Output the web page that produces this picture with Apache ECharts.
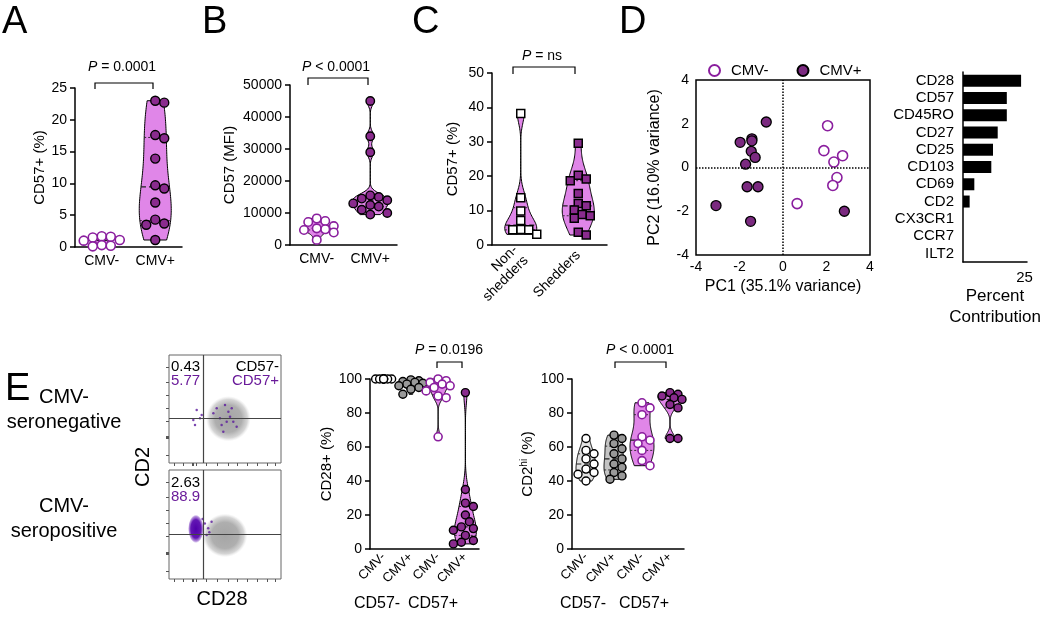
<!DOCTYPE html>
<html><head><meta charset="utf-8">
<script src="https://cdn.jsdelivr.net/npm/echarts@6/dist/echarts.min.js"></script>
<style>html,body{margin:0;padding:0;background:#fff}#c{width:1050px;height:620px}</style>
</head><body><div id="c"></div>
<script>
// ---------------- DATA ----------------
const groupCMV = ['CMV-', 'CMV+'];
const aCMVneg = [1.7, 1.6, 1.5, 1.1, 1.0, 0.3, 0.2, 0.1];
const aCMVpos = [23.0, 22.7, 17.6, 17.1, 13.9, 9.7, 9.2, 7.0, 4.3, 3.7, 3.5, 1.1];
const aTicks = [0, 25, 5];
const bCMVneg = [8300, 7500, 7200, 5900, 5200, 4900, 4700, 3900, 1600];
const bCMVpos = [45000, 34000, 29000, 15500, 15000, 14500, 14000, 13000, 12500, 12000, 11000, 10000, 9500];
const bTicks = [0, 50000, 10000];
const cCategories = ['Non-\nshedders', 'Shedders'];
const cNonShedders = [38.2, 13.7, 9.9, 7.1, 4.5, 4.4, 4.4, 3.1];
const cShedders = [29.6, 20.3, 19.2, 18.7, 15.0, 12.1, 11.4, 10.2, 8.9, 8.5, 7.8, 3.7, 2.9];
const cTicks = [0, 50, 10];
const dCMVneg = [[2.05, 1.91], [1.88, 0.77], [2.74, 0.54], [2.34, 0.25], [2.48, -0.46], [2.29, -0.82], [0.65, -1.65]];
const dCMVpos = [[-0.77, 2.08], [-1.97, 1.15], [-1.43, 1.31], [-1.43, 1.22], [-1.46, 0.74], [-1.28, 0.46], [-1.72, 0.15], [-1.65, -0.88], [-1.15, -0.88], [-3.08, -1.74], [-1.49, -2.46], [2.82, -2.0]];
const dTicks = [-4, 4, 2];
const dMarkers = ['CD28', 'CD57', 'CD45RO', 'CD27', 'CD25', 'CD103', 'CD69', 'CD2', 'CX3CR1', 'CCR7', 'ILT2'];
const dContribution = [23.6, 17.8, 17.8, 14.1, 12.2, 11.5, 4.6, 2.7, 0, 0, 0];
const flowGate = [31, 41];
const flowTopCloud = [[53, 41, 20, 21]];
const flowBottomCloud = [[50, 40, 20, 20]];
const flowBottomBlob = [[24, 46, 7, 13]];
const flowTopPurple = [[24.7, 49], [27.7, 41.4], [23.2, 35.2], [29.2, 44.4], [50, 53.7], [53, 47.5], [54.5, 42.9], [51.5, 38.3], [47, 35.2], [56, 50.6], [48.5, 29], [45.5, 41.4], [57.4, 38.3], [39.6, 46], [42.6, 50.6], [21.7, 39.8], [60.4, 33.6]];
const flowBottomPurple = [[32, 51], [35, 46.5], [38, 52.6], [33.6, 40.4], [30, 55], [36, 43]];
const flowXTicks = [5, 12.5, 21, 22, 24, 33, 43, 53, 61, 70, 79, 88, 95];
const flowYTicks = [7, 23, 24, 25, 39, 51, 63, 75, 89];
const eCategories = ['CMV-', 'CMV+', 'CMV-', 'CMV+'];
const eCD28_57negCMVneg = [100, 100, 100, 100, 100, 100, 100, 100];
const eCD28_57negCMVpos = [99.5, 99, 98.5, 98, 97.5, 97, 96, 95, 94, 91];
const eCD28_57posCMVneg = [100, 99, 98, 97, 96, 95, 93, 90, 89, 66];
const eCD28_57posCMVpos = [92, 35, 27, 25, 20, 16, 13, 12, 11, 8, 5, 4, 3];
const eCD2_57negCMVneg = [65, 58, 56, 53, 50, 47, 45, 44, 40];
const eCD2_57negCMVpos = [67, 65, 62, 59, 56, 53, 50, 48, 45, 43, 41];
const eCD2_57posCMVneg = [86, 83, 79, 66, 64, 62, 58, 52, 49];
const eCD2_57posCMVpos = [92, 91, 90, 89, 88, 85, 83, 65, 65];
const eTicks = [0, 100, 20];

// ---------------- STYLE ----------------
const F = "'Liberation Sans', Arial, sans-serif";
const PINK = '#e086e8', PURPLE = '#8a2b8e', OPENP = '#8a1e9e', TXTP = '#6a1b9a';

function quantile(s, q) { const p = (s.length - 1) * q, i = Math.floor(p), f = p - i; return s[i] + (s[Math.min(i + 1, s.length - 1)] - s[i]) * f; }

function violinSeries(gi, groups) {
  return {
    type: 'custom', xAxisIndex: gi, yAxisIndex: gi, silent: true, animation: false,
    data: groups.map((g, i) => [i, quantile(g.values.slice().sort((a, b) => a - b), 0.5)]),
    encode: { x: 0, y: 1 },
    renderItem: function (params, api) {
      const idx = params.dataIndex;
      const g = groups[idx];
      const cat = api.value(0);
      const vals = g.values.slice().sort((a, b) => a - b);
      const n = vals.length, lo = vals[0], hi = vals[n - 1];
      const cx = api.coord([cat, lo])[0];
      const children = [];
      if (g.hw && hi > lo) {
        const mean = vals.reduce((s, v) => s + v, 0) / n;
        const sd = Math.sqrt(vals.reduce((s, v) => s + (v - mean) * (v - mean), 0) / (n - 1));
        const q1 = quantile(vals, 0.25), q3 = quantile(vals, 0.75), med = quantile(vals, 0.5);
        const iqr = (q3 - q1) / 1.34;
        let h = 0.9 * (iqr > 0 ? Math.min(sd, iqr) : sd) * Math.pow(n, -0.2);
        h *= (g.bw || 1);
        const dens = y => vals.reduce((s, v) => s + Math.exp(-0.5 * ((y - v) / h) * ((y - v) / h)), 0);
        const steps = 80, ys = [], ds = [];
        let maxd = 0;
        for (let i = 0; i <= steps; i++) { const y = lo + (hi - lo) * i / steps; const d = dens(y); ys.push(y); ds.push(d); if (d > maxd) maxd = d; }
        const right = [], left = [];
        for (let i = 0; i <= steps; i++) {
          const py = api.coord([cat, ys[i]])[1];
          const w = ds[i] / maxd * g.hw;
          right.push([cx + w, py]); left.unshift([cx - w, py]);
        }
        children.push({ type: 'polygon', shape: { points: right.concat(left) }, style: { fill: g.vfill, stroke: '#000', lineWidth: 1 } });
        [q1, med, q3].forEach((q, k) => {
          const w = dens(q) / maxd * g.hw;
          const py = api.coord([cat, q])[1];
          children.push({ type: 'line', shape: { x1: cx - w, y1: py, x2: cx + w, y2: py },
            style: { stroke: '#222', lineWidth: k === 1 ? 1.2 : 0.9, lineDash: k === 1 ? [5, 3] : [2, 2] } });
        });
      }
      // beeswarm dots
      const s = g.size, step = s * 0.5, spread = g.spread || s * 2.2;
      const placed = [];
      const order = vals.slice().sort((a, b) => b - a);
      order.forEach(v => {
        const py = api.coord([cat, v])[1];
        let best = 0, bestScore = -1;
        const maxK = Math.floor(spread / step);
        for (let k = 0; k <= 2 * maxK; k++) {
          const off = (k % 2 ? 1 : -1) * Math.ceil(k / 2) * step;
          let md = Infinity;
          placed.forEach(p => { const dd = Math.hypot(p[0] - (cx + off), p[1] - py); if (dd < md) md = dd; });
          if (md >= s * 0.95) { best = off; bestScore = Infinity; break; }
          if (md > bestScore) { bestScore = md; best = off; }
        }
        placed.push([cx + best, py]);
      });
      placed.forEach(p => {
        if (g.shape === 'square') {
          children.push({ type: 'rect', shape: { x: p[0] - s / 2, y: p[1] - s / 2, width: s, height: s }, style: { fill: g.fill, stroke: g.stroke, lineWidth: g.lw || 1.4 } });
        } else {
          children.push({ type: 'circle', shape: { cx: p[0], cy: p[1], r: s / 2 }, style: { fill: g.fill, stroke: g.stroke, lineWidth: g.lw || 1.4 } });
        }
      });
      return { type: 'group', children };
    }
  };
}

function cloudSeries(gi, clouds, stops) {
  return {
    type: 'custom', xAxisIndex: gi, yAxisIndex: gi, silent: true, animation: false,
    data: clouds.map(c => [c[0], c[1]]), encode: { x: 0, y: 1 },
    renderItem: function (params, api) {
      const c = clouds[params.dataIndex];
      const p = api.coord([c[0], c[1]]);
      const sz = api.size([c[2], c[3]]);
      return { type: 'circle', x: p[0], y: p[1], scaleY: sz[1] / sz[0], shape: { cx: 0, cy: 0, r: sz[0] },
        style: { fill: new echarts.graphic.RadialGradient(0.5, 0.5, 0.5, stops) } };
    }
  };
}
const grayStops = [{ offset: 0, color: 'rgba(165,165,165,1)' }, { offset: 0.6, color: 'rgba(170,170,170,0.95)' }, { offset: 0.85, color: 'rgba(185,185,185,0.6)' }, { offset: 1, color: 'rgba(215,215,215,0)' }];
const purpleStops = [{ offset: 0, color: 'rgba(80,0,170,1)' }, { offset: 0.65, color: 'rgba(90,10,175,0.95)' }, { offset: 0.88, color: 'rgba(110,40,185,0.5)' }, { offset: 1, color: 'rgba(130,70,200,0)' }];

const AX = { lineStyle: { color: '#000', width: 1.5 } };
function valAxis(gi, t, extra) {
  return Object.assign({ type: 'value', gridIndex: gi, min: t[0], max: t[1], interval: t[2],
    axisLine: { show: true, onZero: false, lineStyle: AX.lineStyle }, axisTick: { show: true, length: 5, lineStyle: AX.lineStyle },
    axisLabel: { color: '#000', fontSize: 14, fontFamily: F, margin: 8, formatter: v => String(v) }, splitLine: { show: false },
    nameLocation: 'middle', nameTextStyle: { color: '#000', fontSize: 15, fontFamily: F } }, extra || {});
}
function catAxis(gi, data, extra) {
  return Object.assign({ type: 'category', gridIndex: gi, data,
    axisLine: { show: true, lineStyle: AX.lineStyle }, axisTick: { show: false },
    axisLabel: { color: '#000', fontSize: 14, fontFamily: F, margin: 7, interval: 0 }, splitLine: { show: false } }, extra || {});
}
function flowAxis(gi, ticks) {
  return { type: 'value', gridIndex: gi, min: 0, max: 100, axisLine: { show: false, onZero: false },
    axisTick: { show: true, length: 3, customValues: ticks, lineStyle: { color: '#555', width: 1 } },
    axisLabel: { show: false }, splitLine: { show: false } };
}

const grids = [
  { left: 75, top: 88, width: 107, height: 159 },
  { left: 290, top: 85, width: 107, height: 160 },
  { left: 492, top: 73, width: 115, height: 172 },
  { left: 696, top: 80, width: 174, height: 175, show: true, borderColor: '#000', borderWidth: 1.5, backgroundColor: 'transparent' },
  { left: 963, top: 72, width: 64, height: 190 },
  { left: 169, top: 355, width: 112, height: 108, show: true, borderColor: '#666', borderWidth: 1, backgroundColor: 'transparent' },
  { left: 169, top: 470, width: 112, height: 109, show: true, borderColor: '#666', borderWidth: 1, backgroundColor: 'transparent' },
  { left: 370, top: 379, width: 109, height: 170 },
  { left: 572, top: 379, width: 112, height: 170 }
];

const xAxes = [
  catAxis(0, groupCMV),
  catAxis(1, groupCMV),
  catAxis(2, cCategories, { axisLabel: { color: '#000', fontSize: 14, fontFamily: F, rotate: 45, margin: 8, lineHeight: 15, interval: 0 } }),
  valAxis(3, dTicks, { axisLine: { show: false }, axisTick: { show: false }, axisLabel: { color: '#000', fontSize: 14, fontFamily: F, margin: 5, formatter: v => String(v) },
    name: 'PC1 (35.1% variance)', nameGap: 24, nameTextStyle: { color: '#000', fontSize: 16, fontFamily: F } }),
  { type: 'value', gridIndex: 4, min: 0, max: 26, axisLine: { show: true, lineStyle: AX.lineStyle }, axisTick: { show: false },
    axisLabel: { customValues: [25], color: '#000', fontSize: 15, fontFamily: F, margin: 8 }, splitLine: { show: false },
    name: 'Percent\nContribution', nameLocation: 'middle', nameGap: 24, nameTextStyle: { color: '#000', fontSize: 17, fontFamily: F, lineHeight: 21 } },
  flowAxis(5, flowXTicks),
  flowAxis(6, flowXTicks),
  catAxis(7, eCategories, { axisLabel: { color: '#000', fontSize: 13, fontFamily: F, rotate: 45, margin: 6, interval: 0 } }),
  catAxis(8, eCategories, { axisLabel: { color: '#000', fontSize: 13, fontFamily: F, rotate: 45, margin: 6, interval: 0 } })
];
const yAxes = [
  valAxis(0, aTicks, { name: 'CD57+ (%)', nameGap: 27 }),
  valAxis(1, bTicks, { name: 'CD57 (MFI)', nameGap: 53 }),
  valAxis(2, cTicks, { name: 'CD57+ (%)', nameGap: 32 }),
  valAxis(3, dTicks, { axisLine: { show: false }, axisTick: { show: false }, axisLabel: { color: '#000', fontSize: 14, fontFamily: F, margin: 7, formatter: v => String(v) },
    name: 'PC2 (16.0% variance)', nameGap: 33, nameTextStyle: { color: '#000', fontSize: 16, fontFamily: F } }),
  { type: 'category', gridIndex: 4, data: dMarkers, inverse: true, axisLine: { show: true, lineStyle: AX.lineStyle }, axisTick: { show: false },
    axisLabel: { color: '#000', fontSize: 15, fontFamily: F, margin: 9, interval: 0 } },
  flowAxis(5, flowYTicks),
  flowAxis(6, flowYTicks),
  valAxis(7, eTicks, { name: 'CD28+ (%)', nameGap: 28 }),
  valAxis(8, eTicks, { name: '{n|CD2}{s|hi}{n| (%)}', nameGap: 36,
    nameTextStyle: { color: '#000', fontSize: 15, fontFamily: F, rich: { n: { fontSize: 15, fontFamily: F, color: '#000' }, s: { fontSize: 10, fontFamily: F, color: '#000', padding: [0, 0, 7, 0] } } } })
];

const series = [
  violinSeries(0, [
    { values: aCMVneg, hw: 8, vfill: PINK, size: 9, fill: '#fff', stroke: OPENP, lw: 1.6 },
    { values: aCMVpos, hw: 16, vfill: PINK, size: 9, fill: PURPLE, stroke: '#000' }
  ]),
  violinSeries(1, [
    { values: bCMVneg, hw: 13, vfill: PINK, size: 8.5, fill: '#fff', stroke: OPENP, lw: 1.6 },
    { values: bCMVpos, hw: 18, vfill: PINK, size: 8.5, fill: PURPLE, stroke: '#000' }
  ]),
  violinSeries(2, [
    { values: cNonShedders, hw: 16, vfill: PINK, size: 8, fill: '#fff', stroke: '#000', shape: 'square', lw: 1.5 },
    { values: cShedders, hw: 16, vfill: PINK, size: 8, fill: PURPLE, stroke: '#000', shape: 'square', lw: 1.5 }
  ]),
  { name: 'CMV-', type: 'scatter', xAxisIndex: 3, yAxisIndex: 3, data: dCMVneg, symbol: 'circle', symbolSize: 10,
    itemStyle: { color: '#fff', borderColor: OPENP, borderWidth: 1.6, opacity: 1 }, z: 3,
    markLine: { silent: true, symbol: ['none', 'none'], label: { show: false }, animation: false,
      lineStyle: { color: '#000', type: 'dotted', width: 1.5 }, data: [{ xAxis: 0 }, { yAxis: 0 }] } },
  { name: 'CMV+', type: 'scatter', xAxisIndex: 3, yAxisIndex: 3, data: dCMVpos, symbol: 'circle', symbolSize: 10,
    itemStyle: { color: '#7b2a80', borderColor: '#000', borderWidth: 1.3, opacity: 1 }, z: 3 },
  { type: 'bar', xAxisIndex: 4, yAxisIndex: 4, data: dContribution, barWidth: 12, itemStyle: { color: '#000' }, silent: true },
  cloudSeries(5, flowTopCloud, grayStops),
  { type: 'scatter', xAxisIndex: 5, yAxisIndex: 5, data: flowTopPurple, symbolSize: 2.5, itemStyle: { color: '#5b1a9c' }, silent: true,
    markLine: { silent: true, symbol: ['none', 'none'], label: { show: false }, animation: false,
      lineStyle: { color: '#444', type: 'solid', width: 1.2 }, data: [{ xAxis: flowGate[0] }, { yAxis: flowGate[1] }] } },
  cloudSeries(6, flowBottomCloud, grayStops),
  cloudSeries(6, flowBottomBlob, purpleStops),
  { type: 'scatter', xAxisIndex: 6, yAxisIndex: 6, data: flowBottomPurple, symbolSize: 2.5, itemStyle: { color: '#5b1a9c' }, silent: true,
    markLine: { silent: true, symbol: ['none', 'none'], label: { show: false }, animation: false,
      lineStyle: { color: '#444', type: 'solid', width: 1.2 }, data: [{ xAxis: flowGate[0] }, { yAxis: flowGate[1] }] } },
  violinSeries(7, [
    { values: eCD28_57negCMVneg, hw: 0, size: 8, fill: '#fff', stroke: '#000', spread: 10 },
    { values: eCD28_57negCMVpos, hw: 9, vfill: '#bdbdbd', size: 8, fill: '#999', stroke: '#000', spread: 12 },
    { values: eCD28_57posCMVneg, hw: 10, vfill: PINK, size: 8, fill: '#fff', stroke: OPENP, lw: 1.6, spread: 12 },
    { values: eCD28_57posCMVpos, hw: 11, vfill: PINK, size: 8, fill: PURPLE, stroke: '#000', spread: 14 }
  ]),
  violinSeries(8, [
    { values: eCD2_57negCMVneg, hw: 10, vfill: '#e2e2e2', size: 8, fill: '#fff', stroke: '#000', spread: 12 },
    { values: eCD2_57negCMVpos, hw: 10, vfill: '#c4c4c4', size: 8, fill: '#999', stroke: '#000', spread: 12 },
    { values: eCD2_57posCMVneg, hw: 12, vfill: PINK, size: 8, fill: '#fff', stroke: OPENP, lw: 1.6, spread: 12 },
    { values: eCD2_57posCMVpos, hw: 12, vfill: PINK, size: 8, fill: PURPLE, stroke: '#000', spread: 14 }
  ])
];

// ---------------- ANNOTATIONS ----------------
function txt(text, x, y, o) {
  o = o || {};
  const el = { type: 'text', x, y, silent: true, z: 100,
    style: { text, fill: o.fill || '#000', fontSize: o.fs || 15, fontFamily: F, align: o.align || 'center', verticalAlign: 'middle',
      lineHeight: o.lh, rich: o.rich } };
  if (o.rot) el.rotation = o.rot;
  return el;
}
function pval(text, x, y) {
  return txt('{i|P} ' + text, x, y, { fs: 14, rich: { i: { fontStyle: 'italic', fontSize: 14, fontFamily: F, fill: '#000' } } });
}
function bracket(x1, x2, yt, yb) {
  return { type: 'polyline', silent: true, z: 100, shape: { points: [[x1, yb], [x1, yt], [x2, yt], [x2, yb]] }, style: { stroke: '#000', lineWidth: 1.2, fill: null } };
}
const graphics = [
  txt('A', 2, 23, { fs: 38, align: 'left' }), txt('B', 202, 23, { fs: 38, align: 'left' }),
  txt('C', 412, 23, { fs: 38, align: 'left' }), txt('D', 619, 23, { fs: 38, align: 'left' }),
  txt('E', 5, 390, { fs: 38, align: 'left' }),
  pval('= 0.0001', 122, 67), bracket(95, 153, 83, 89),
  pval('< 0.0001', 336, 67), bracket(308, 368, 78, 85),
  pval('= ns', 542, 56), bracket(513, 575, 67, 74),
  pval('= 0.0196', 449, 350), bracket(437, 462, 362, 368),
  pval('< 0.0001', 640, 350), bracket(615, 666, 362, 368),
  txt('0.43', 171, 367, { align: 'left' }), txt('5.77', 171, 381, { align: 'left', fill: TXTP }),
  txt('CD57-', 279, 367, { align: 'right' }), txt('CD57+', 279, 381, { align: 'right', fill: TXTP }),
  txt('2.63', 171, 483, { align: 'left' }), txt('88.9', 171, 497, { align: 'left', fill: TXTP }),
  txt('CMV-', 64, 397, { fs: 20 }), txt('seronegative', 64, 422, { fs: 20 }),
  txt('CMV-', 64, 506, { fs: 20 }), txt('seropositive', 64, 531, { fs: 20 }),
  txt('CD2', 143, 467, { fs: 20, rot: Math.PI / 2 }), txt('CD28', 222, 599, { fs: 20 }),
  txt('CD57-', 377, 604, { fs: 16 }), txt('CD57+', 433, 604, { fs: 16 }),
  txt('CD57-', 583, 604, { fs: 16 }), txt('CD57+', 644, 604, { fs: 16 })
];

const chart = echarts.init(document.getElementById('c'), null, { renderer: 'canvas' });
chart.setOption({
  animation: false,
  backgroundColor: '#fff',
  textStyle: { fontFamily: F },
  grid: grids,
  xAxis: xAxes,
  yAxis: yAxes,
  legend: { data: ['CMV-', 'CMV+'], left: 703, top: 58, itemWidth: 11, itemHeight: 11, itemGap: 28, selectedMode: false,
    textStyle: { color: '#000', fontSize: 15, fontFamily: F, padding: [0, 0, 0, 6] } },
  series,
  graphic: graphics
});
</script>
</body></html>
